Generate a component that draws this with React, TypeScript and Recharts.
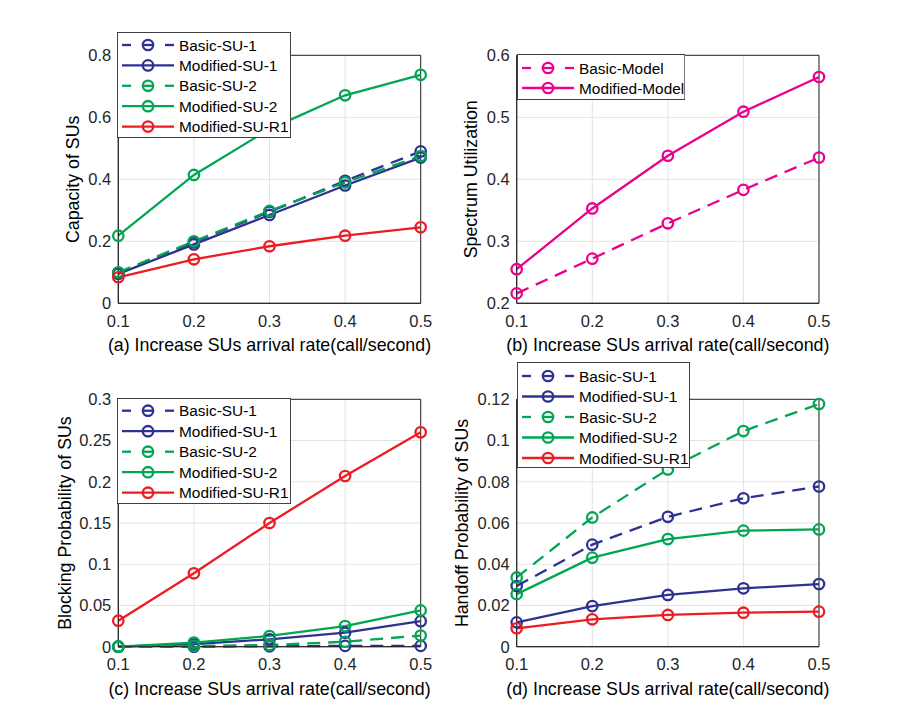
import React from 'react'
import { LineChart, Line, XAxis, YAxis, CartesianGrid, ReferenceArea, Legend, Label } from 'recharts'

// arrival rate of SUs (call/second)
const arrivalRates = [0.1, 0.2, 0.3, 0.4, 0.5]

// (a) capacity of SUs
const capBasicSU1 = [0.097, 0.197, 0.295, 0.395, 0.49]
const capModSU1 = [0.095, 0.19, 0.285, 0.38, 0.47]
const capBasicSU2 = [0.1, 0.2, 0.298, 0.39, 0.475]
const capModSU2 = [0.218, 0.414, 0.562, 0.671, 0.737]
const capModR1 = [0.084, 0.142, 0.184, 0.218, 0.245]

// (b) spectrum utilization
const utilBasic = [0.216, 0.272, 0.329, 0.383, 0.435]
const utilModified = [0.255, 0.353, 0.438, 0.509, 0.565]

// (c) blocking probability
const blkBasicSU1 = [0, 0, 0.0005, 0.001, 0.001]
const blkModSU1 = [0, 0.003, 0.009, 0.017, 0.031]
const blkBasicSU2 = [0, 0.001, 0.002, 0.006, 0.0135]
const blkModSU2 = [0, 0.005, 0.013, 0.025, 0.044]
const blkModR1 = [0.0315, 0.089, 0.15, 0.207, 0.26]

// (d) handoff probability
const hoBasicSU1 = [0.0294, 0.0495, 0.063, 0.072, 0.0777]
const hoModSU1 = [0.0118, 0.0197, 0.0251, 0.0283, 0.0304]
const hoBasicSU2 = [0.0336, 0.0627, 0.086, 0.1046, 0.1177]
const hoModSU2 = [0.0255, 0.0432, 0.0522, 0.0563, 0.0569]
const hoModR1 = [0.0089, 0.0133, 0.0154, 0.0165, 0.017]

const capTicks = [0, 0.2, 0.4, 0.6, 0.8]
const utilTicks = [0.2, 0.3, 0.4, 0.5, 0.6]
const blkTicks = [0, 0.05, 0.1, 0.15, 0.2, 0.25, 0.3]
const hoTicks = [0, 0.02, 0.04, 0.06, 0.08, 0.1, 0.12]

const BLUE = '#2e3192'
const GREEN = '#00a651'
const RED = '#ed1c24'
const MAGENTA = '#ec008c'
const AXIS = '#262626'
const FONT = '"Liberation Sans", Arial, Helvetica, sans-serif'
const LW = 2.3
const DOT_R = 5.2

interface Series {
  key: string
  name: string
  color: string
  dashed: boolean
  values: number[]
}

const suSeries = (b1: number[], m1: number[], b2: number[], m2: number[], r1: number[]): Series[] => [
  { key: 'b1', name: 'Basic-SU-1', color: BLUE, dashed: true, values: b1 },
  { key: 'm1', name: 'Modified-SU-1', color: BLUE, dashed: false, values: m1 },
  { key: 'b2', name: 'Basic-SU-2', color: GREEN, dashed: true, values: b2 },
  { key: 'm2', name: 'Modified-SU-2', color: GREEN, dashed: false, values: m2 },
  { key: 'r1', name: 'Modified-SU-R1', color: RED, dashed: false, values: r1 },
]

interface LegendCfg {
  x: number
  y: number
  w: number
  h: number
  row0: number
  step: number
}

interface PanelCfg {
  left: number
  top: number
  width: number
  height: number
  plot: { l: number; t: number; r: number; b: number }
  series: Series[]
  yDomain: [number, number]
  yTicks: number[]
  yLabel: string
  yLabelGap: number
  xLabel: string
  legend: LegendCfg
}

const LegendBox = ({ series, box }: { series: Series[]; box: LegendCfg }) => {
  const x0 = 5
  const x1 = 57
  const mx = (x0 + x1) / 2
  return (
    <svg width={box.w} height={box.h} style={{ display: 'block', fontFamily: FONT }}>
      <rect x={0.5} y={0.5} width={box.w - 1} height={box.h - 1} fill="#fff" stroke="#404040" strokeWidth={1} />
      {series.map((s, i) => {
        const cy = box.row0 + i * box.step
        return (
          <g key={s.key}>
            {s.dashed ? (
              <>
                <line x1={x0} x2={x0 + 9} y1={cy} y2={cy} stroke={s.color} strokeWidth={LW} />
                <line x1={mx - 4} x2={mx + 4} y1={cy} y2={cy} stroke={s.color} strokeWidth={LW} />
                <line x1={x1 - 9} x2={x1} y1={cy} y2={cy} stroke={s.color} strokeWidth={LW} />
              </>
            ) : (
              <line x1={x0} x2={x1} y1={cy} y2={cy} stroke={s.color} strokeWidth={LW} />
            )}
            <circle cx={mx} cy={cy} r={DOT_R} fill="none" stroke={s.color} strokeWidth={LW} />
            <text x={62} y={cy} dominantBaseline="central" fontSize={15.4} fill="#000">
              {s.name}
            </text>
          </g>
        )
      })}
    </svg>
  )
}

const Panel = ({ cfg }: { cfg: PanelCfg }) => {
  const yAxisW = 60
  const xAxisH = 50
  const margin = {
    left: cfg.plot.l - cfg.left - yAxisW,
    top: cfg.plot.t - cfg.top,
    right: cfg.left + cfg.width - cfg.plot.r,
    bottom: cfg.top + cfg.height - cfg.plot.b - xAxisH,
  }
  const rows = arrivalRates.map((x, i) => {
    const r: Record<string, number> = { x }
    cfg.series.forEach((s) => {
      r[s.key] = s.values[i]
    })
    return r
  })
  const relL = cfg.plot.l - cfg.left
  const relR = cfg.plot.r - cfg.left
  const relT = cfg.plot.t - cfg.top
  const relB = cfg.plot.b - cfg.top
  const xlx = (relL + relR) / 2
  const xly = relB + 42
  const ylx = relL - cfg.yLabelGap
  const yly = (relT + relB) / 2

  return (
    <div style={{ position: 'absolute', left: cfg.left, top: cfg.top, fontFamily: FONT }}>
      <LineChart width={cfg.width} height={cfg.height} data={rows} margin={margin}>
        <CartesianGrid stroke="#e3e3e3" strokeWidth={1} />
        <ReferenceArea
          x1={0.1}
          x2={0.5}
          y1={cfg.yDomain[0]}
          y2={cfg.yDomain[1]}
          fill="none"
          fillOpacity={0}
          stroke={AXIS}
          strokeWidth={1}
        />
        <XAxis
          dataKey="x"
          type="number"
          domain={[0.1, 0.5]}
          ticks={arrivalRates}
          height={xAxisH}
          stroke={AXIS}
          tickLine={false}
          tickSize={6}
          tickMargin={6}
          tick={{ fill: AXIS, fontSize: 16.5, fontFamily: FONT }}
        >
          <Label
            content={() => (
              <text x={xlx} y={xly} textAnchor="middle" dominantBaseline="central" fontSize={17.8} fill="#000" fontFamily={FONT}>
                {cfg.xLabel}
              </text>
            )}
          />
        </XAxis>
        <YAxis
          type="number"
          domain={cfg.yDomain}
          ticks={cfg.yTicks}
          width={yAxisW}
          stroke={AXIS}
          tickLine={false}
          tickSize={5}
          tickMargin={2}
          tick={{ fill: AXIS, fontSize: 16.5, fontFamily: FONT }}
        >
          <Label
            content={() => (
              <text
                x={ylx}
                y={yly}
                transform={`rotate(-90 ${ylx} ${yly})`}
                textAnchor="middle"
                dominantBaseline="central"
                fontSize={17.8}
                fill="#000"
                fontFamily={FONT}
              >
                {cfg.yLabel}
              </text>
            )}
          />
        </YAxis>
        {cfg.series.map((s) => (
          <Line
            key={s.key}
            dataKey={s.key}
            name={s.name}
            type="linear"
            stroke={s.color}
            strokeWidth={LW}
            strokeDasharray={s.dashed ? '13 8' : undefined}
            dot={{ r: DOT_R, fill: 'none', stroke: s.color, strokeWidth: LW, strokeDasharray: '' }}
            activeDot={false}
            isAnimationActive={false}
          />
        ))}
        <Legend
          layout="horizontal"
          verticalAlign="middle"
          align="center"
          wrapperStyle={{ left: cfg.legend.x, top: cfg.legend.y, width: cfg.legend.w, height: cfg.legend.h }}
          content={() => <LegendBox series={cfg.series} box={cfg.legend} />}
        />
      </LineChart>
    </div>
  )
}

const panels: PanelCfg[] = [
  {
    left: 0,
    top: 0,
    width: 452,
    height: 362,
    plot: { l: 118.3, t: 55.3, r: 420.7, b: 303.3 },
    series: suSeries(capBasicSU1, capModSU1, capBasicSU2, capModSU2, capModR1),
    yDomain: [0, 0.8],
    yTicks: capTicks,
    yLabel: 'Capacity of SUs',
    yLabelGap: 45,
    xLabel: '(a) Increase SUs arrival rate(call/second)',
    legend: { x: 117.3, y: 32, w: 174, h: 106, row0: 13, step: 20.4 },
  },
  {
    left: 452,
    top: 0,
    width: 452,
    height: 362,
    plot: { l: 516.7, t: 55.3, r: 819, b: 303.3 },
    series: [
      { key: 'basic', name: 'Basic-Model', color: MAGENTA, dashed: true, values: utilBasic },
      { key: 'mod', name: 'Modified-Model', color: MAGENTA, dashed: false, values: utilModified },
    ],
    yDomain: [0.2, 0.6],
    yTicks: utilTicks,
    yLabel: 'Spectrum Utilization',
    yLabelGap: 46,
    xLabel: '(b) Increase SUs arrival rate(call/second)',
    legend: { x: 64.7, y: 54.3, w: 168.3, h: 46, row0: 14, step: 20 },
  },
  {
    left: 0,
    top: 355,
    width: 452,
    height: 372,
    plot: { l: 118.3, t: 399.3, r: 420.7, b: 646.7 },
    series: suSeries(blkBasicSU1, blkModSU1, blkBasicSU2, blkModSU2, blkModR1),
    yDomain: [0, 0.3],
    yTicks: blkTicks,
    yLabel: 'Blocking Probability of SUs',
    yLabelGap: 53,
    xLabel: '(c) Increase SUs arrival rate(call/second)',
    legend: { x: 117.3, y: 43, w: 174, h: 106, row0: 12.7, step: 20.5 },
  },
  {
    left: 452,
    top: 355,
    width: 452,
    height: 372,
    plot: { l: 516.7, t: 399.3, r: 819, b: 646.7 },
    series: suSeries(hoBasicSU1, hoModSU1, hoBasicSU2, hoModSU2, hoModR1),
    yDomain: [0, 0.12],
    yTicks: hoTicks,
    yLabel: 'Handoff Probability of SUs',
    yLabelGap: 55,
    xLabel: '(d) Increase SUs arrival rate(call/second)',
    legend: { x: 64.7, y: 6.7, w: 173, h: 106, row0: 14, step: 20.5 },
  },
]

const App: React.FC = () => (
  <div style={{ position: 'absolute', left: 0, top: 0, width: 905, height: 727, background: '#fff' }}>
    {panels.map((p) => (
      <Panel key={p.xLabel} cfg={p} />
    ))}
  </div>
)

export default App
